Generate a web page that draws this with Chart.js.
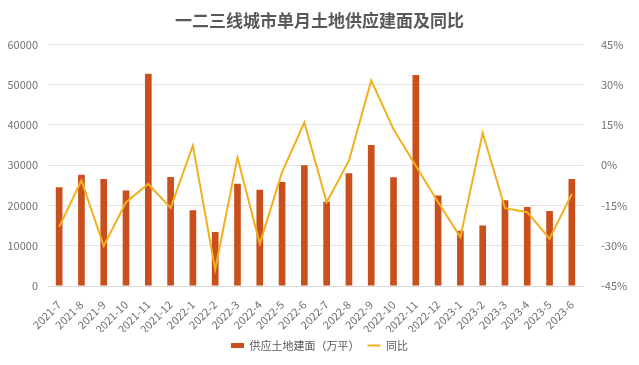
<!DOCTYPE html>
<html>
<head>
<meta charset="utf-8">
<script src="https://cdn.jsdelivr.net/npm/chart.js@4"></script>
<style>
  html, body { margin: 0; padding: 0; background: #fff; }
  #wrap { width: 639px; height: 365px; }
</style>
</head>
<body>
<div id="wrap"><canvas id="chart" width="639" height="365"></canvas></div>
<script>
var months = ['2021-7', '2021-8', '2021-9', '2021-10', '2021-11', '2021-12',
  '2022-1', '2022-2', '2022-3', '2022-4', '2022-5', '2022-6',
  '2022-7', '2022-8', '2022-9', '2022-10', '2022-11', '2022-12',
  '2023-1', '2023-2', '2023-3', '2023-4', '2023-5', '2023-6'];

// 供应土地建面（万平）
var supplyArea = [24500, 27600, 26600, 23700, 52700, 27100,
  18800, 13400, 25400, 23900, 25800, 30000,
  20900, 28000, 35000, 27000, 52400, 22500,
  13700, 15000, 21300, 19600, 18600, 26600];

// 同比 (%)
var yoy = [-23.0, -5.7, -30.1, -13.8, -7.0, -15.9,
  7.3, -38.8, 2.9, -29.3, -2.6, 15.9,
  -13.8, 1.7, 31.6, 13.4, -0.2, -13.8,
  -26.8, 12.0, -16.0, -17.5, -27.4, -10.7];

var leftTicks = [0, 60000, 10000];   // min, max, step
var rightTicks = [-45, 45, 15];

var fontFamily = '"Noto Sans CJK SC", "Noto Sans", sans-serif';
Chart.defaults.font.family = fontFamily;
Chart.defaults.color = '#707070';

var ctx = document.getElementById('chart').getContext('2d');
var chart = new Chart(ctx, {
  type: 'bar',
  data: {
    labels: months,
    datasets: [
      {
        type: 'line',
        label: '同比',
        data: yoy,
        yAxisID: 'y1',
        borderColor: '#F2B01E',
        backgroundColor: '#F2B01E',
        borderWidth: 2,
        pointRadius: 0,
        pointStyle: 'line',
        tension: 0,
        order: 0
      },
      {
        label: '供应土地建面（万平）',
        data: supplyArea,
        yAxisID: 'y',
        backgroundColor: '#C9501C',
        barPercentage: 0.3,
        categoryPercentage: 1,
        pointStyle: 'rect',
        order: 1
      }
    ]
  },
  options: {
    responsive: false,
    animation: false,
    layout: { padding: { top: 10, bottom: 4, left: 0, right: 0 } },
    scales: {
      x: {
        grid: { display: false },
        border: { display: true, color: '#d9d9d9' },
        ticks: { minRotation: 45, maxRotation: 45, autoSkip: false, font: { size: 11 }, padding: 4 },
        afterFit: function (s) { s.height = 46; }
      },
      y: {
        position: 'left',
        min: leftTicks[0],
        max: leftTicks[1],
        grid: { color: '#e4e4e4', drawTicks: false },
        border: { display: false },
        ticks: {
          stepSize: leftTicks[2],
          font: { size: 11 },
          padding: 10,
          callback: function (v) { return String(v); }
        },
        afterFit: function (s) { s.width = 48; }
      },
      y1: {
        position: 'right',
        min: rightTicks[0],
        max: rightTicks[1],
        grid: { display: false },
        border: { display: false },
        ticks: {
          stepSize: rightTicks[2],
          font: { size: 11 },
          padding: 10,
          callback: function (v) { return v + '%'; }
        },
        afterFit: function (s) { s.width = 56; }
      }
    },
    plugins: {
      title: {
        display: true,
        text: '一二三线城市单月土地供应建面及同比',
        color: '#595959',
        font: { size: 17, weight: 'bold' },
        padding: { top: 0, bottom: 14 }
      },
      legend: {
        position: 'bottom',
        reverse: true,
        labels: {
          usePointStyle: true,
          pointStyleWidth: 13,
          boxHeight: 5,
          font: { size: 11 },
          color: '#595959',
          padding: 8
        }
      },
      tooltip: { enabled: false }
    }
  }
});
</script>
</body>
</html>
